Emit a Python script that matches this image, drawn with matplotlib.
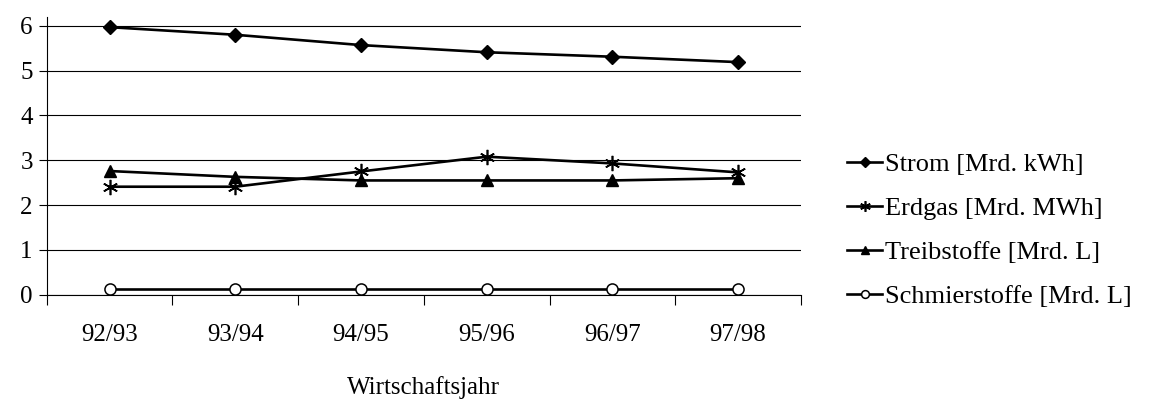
import matplotlib.pyplot as plt
import numpy as np

plt.rcParams['font.family'] = ['Liberation Serif', 'DejaVu Serif']

jahre = ['92/93', '93/94', '94/95', '95/96', '96/97', '97/98']
strom = [5.97, 5.80, 5.57, 5.41, 5.31, 5.19]
erdgas = [2.41, 2.41, 2.75, 3.08, 2.93, 2.73]
treibstoffe = [2.76, 2.63, 2.55, 2.55, 2.55, 2.60]
schmierstoffe = [0.12, 0.12, 0.12, 0.12, 0.12, 0.12]

fig = plt.figure(figsize=(11.64, 4.01), dpi=100)
ax = fig.add_axes([0.0401, 0.265, 0.648, 0.693])

x = np.arange(len(jahre))
lw = 1.9
ax.plot(x, strom, color='black', lw=lw, marker='D', ms=7, label='Strom [Mrd. kWh]')
ax.plot(x, erdgas, color='black', lw=lw, marker=(6, 2, 0), ms=11, mew=1.2,
        label='Erdgas [Mrd. MWh]')
ax.plot(x, treibstoffe, color='black', lw=lw, marker='^', ms=9, label='Treibstoffe [Mrd. L]')
ax.plot(x, schmierstoffe, color='black', lw=lw, marker='o', ms=8, mfc='white', mew=1.1,
        label='Schmierstoffe [Mrd. L]')

ax.set_xlim(-0.5, len(jahre) - 0.5)
ax.set_ylim(0, 6.2)
ax.set_yticks(range(7))
ax.yaxis.grid(True, color='black', lw=0.8)
ax.set_axisbelow(True)

# category borders as major ticks, labels on the centers
ax.set_xticks(np.arange(len(jahre) + 1) - 0.5)
ax.set_xticklabels([])
ax.set_xticks(x, minor=True)
ax.set_xticklabels(jahre, minor=True)
ax.tick_params(axis='x', which='major', direction='out', length=7, width=0.8)
ax.tick_params(axis='x', which='minor', length=0, pad=21, labelsize=18)
ax.tick_params(axis='y', direction='out', length=6, width=0.8, labelsize=18, pad=4)

for s in ['top', 'right']:
    ax.spines[s].set_visible(False)
ax.spines['left'].set_linewidth(0.8)
ax.spines['bottom'].set_linewidth(0.8)

ax.set_xlabel('Wirtschaftsjahr', fontsize=18, labelpad=22)

fig.legend(loc='center left', bbox_to_anchor=(0.707, 0.425), frameon=False,
           fontsize=19, handlelength=1.35, handletextpad=0.12, labelspacing=0.78,
           markerscale=0.7)

fig.savefig('out.png', dpi=100)
